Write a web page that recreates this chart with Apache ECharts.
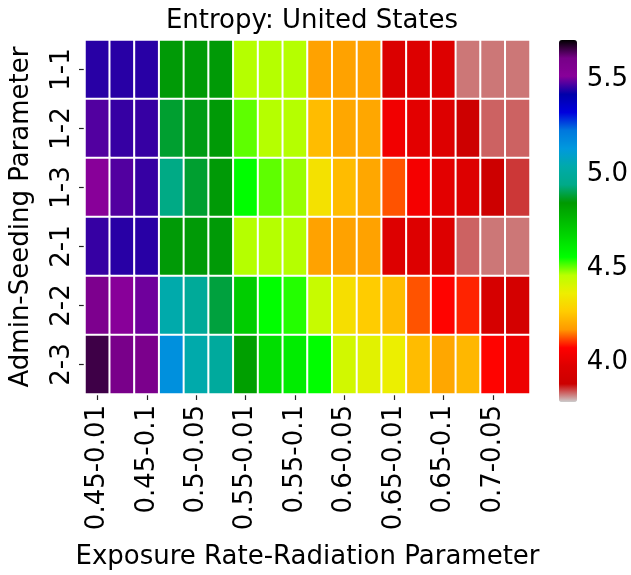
<!DOCTYPE html>
<html>
<head>
<meta charset="utf-8">
<script src="https://cdn.jsdelivr.net/npm/echarts@6/dist/echarts.min.js"></script>
<style>html,body{margin:0;padding:0;background:#fff}#c{width:631px;height:575px}</style>
</head>
<body>
<div id="c"></div>
<script>
// Categories
const xCategories = ['0.45-0.01','0.45-0.05','0.45-0.1','0.5-0.01','0.5-0.05','0.5-0.1',
  '0.55-0.01','0.55-0.05','0.55-0.1','0.6-0.01','0.6-0.05','0.6-0.1',
  '0.65-0.01','0.65-0.05','0.65-0.1','0.7-0.01','0.7-0.05','0.7-0.1'];
const yCategories = ['1-1','1-2','1-3','2-1','2-2','2-3'];

// Entropy values per row
const row_1_1 = [5.45,5.45,5.45, 4.85,4.85,4.85, 4.465,4.465,4.465, 4.19,4.19,4.19, 3.97,3.98,3.98, 3.83,3.83,3.83];
const row_1_2 = [5.48,5.46,5.46, 4.88,4.86,4.85, 4.51,4.465,4.465, 4.24,4.20,4.20, 4.04,4.00,3.98, 3.89,3.84,3.84];
const row_1_3 = [5.52,5.48,5.46, 4.94,4.88,4.85, 4.56,4.51,4.48, 4.33,4.24,4.20, 4.13,4.05,4.00, 3.98,3.89,3.86];
const row_2_1 = [5.46,5.45,5.45, 4.85,4.85,4.85, 4.465,4.465,4.465, 4.19,4.19,4.19, 3.98,3.98,3.98, 3.84,3.83,3.83];
const row_2_2 = [5.58,5.52,5.50, 5.04,4.99,4.89, 4.70,4.56,4.54, 4.44,4.32,4.27, 4.24,4.13,4.08, 4.10,3.94,3.93];
const row_2_3 = [5.66,5.60,5.59, 5.16,5.04,5.00, 4.83,4.65,4.61, 4.56,4.42,4.39, 4.37,4.24,4.20, 4.23,4.08,4.03];
const rows = [row_1_1,row_1_2,row_1_3,row_2_1,row_2_2,row_2_3];

// Colour scale range and colorbar ticks
const vMin = 3.79, vMax = 5.71;
const colorbarTicks = [4.0, 4.5, 5.0, 5.5];
// nipy_spectral reversed (low -> high)
const cmap = ['#cccccc','#cc0000','#dd0000','#ff0000','#ff9900','#ffcc00','#eeee00','#bbff00',
  '#00ff00','#00dd00','#00bb00','#009900','#00aa88','#00aaaa','#0099dd','#0077dd',
  '#0000dd','#0000aa','#880099','#770088','#000000'];

const data = [];
rows.forEach((r, yi) => r.forEach((v, xi) => data.push([xi, yi, v])));

const F = 'DejaVu Sans';
const FS = 26;
const chart = echarts.init(document.getElementById('c'));
chart.setOption({
  animation: false,
  title: {
    text: 'Entropy: United States', left: 307, top: 3, textAlign: 'center',
    textStyle: {fontFamily: F, fontSize: FS, fontWeight: 'normal', color: '#000'}
  },
  grid: [
    {left: 84, top: 40, width: 446, height: 362},
    {left: 559, top: 40, width: 18, height: 362}
  ],
  xAxis: [{
    type: 'category', data: xCategories, gridIndex: 0,
    axisLine: {show: false},
    axisTick: {show: true, interval: 1, alignWithLabel: true, length: 6, lineStyle: {color: '#222', width: 1.2}},
    axisLabel: {interval: 1, rotate: 90, margin: 11, fontFamily: F, fontSize: FS, color: '#000'},
    splitLine: {show: false},
    name: 'Exposure Rate-Radiation Parameter', nameLocation: 'middle', nameGap: 150,
    nameTextStyle: {fontFamily: F, fontSize: FS, color: '#000'}
  }, {
    type: 'value', gridIndex: 1, show: false, min: 0, max: 1
  }],
  yAxis: [{
    type: 'category', data: yCategories, gridIndex: 0, inverse: true,
    axisLine: {show: false},
    axisTick: {show: true, alignWithLabel: true, length: 6, lineStyle: {color: '#222', width: 1.2}},
    axisLabel: {rotate: 90, margin: 10, fontFamily: F, fontSize: FS, color: '#000'},
    splitLine: {show: false},
    name: 'Admin-Seeding Parameter', nameLocation: 'middle', nameGap: 51,
    nameTextStyle: {fontFamily: F, fontSize: FS, color: '#000'}
  }, {
    type: 'value', gridIndex: 1, position: 'right', min: vMin, max: vMax,
    axisLine: {show: false},
    splitLine: {show: false},
    axisTick: {show: true, length: 6, customValues: colorbarTicks, lineStyle: {color: '#222', width: 1.2}},
    axisLabel: {margin: 10, customValues: colorbarTicks, fontFamily: F, fontSize: FS, color: '#000',
      formatter: v => Number(v).toFixed(1)}
  }],
  visualMap: {
    type: 'continuous', min: vMin, max: vMax, seriesIndex: 0, calculable: false,
    orient: 'vertical', left: 559, top: 40, itemWidth: 18, itemHeight: 362,
    padding: 0, text: null, showLabel: false, realtime: false,
    inRange: {color: cmap}
  },
  series: [{
    type: 'heatmap', xAxisIndex: 0, yAxisIndex: 0, data: data,
    itemStyle: {borderColor: '#fff', borderWidth: 2},
    emphasis: {disabled: true}
  }]
});
</script>
</body>
</html>
